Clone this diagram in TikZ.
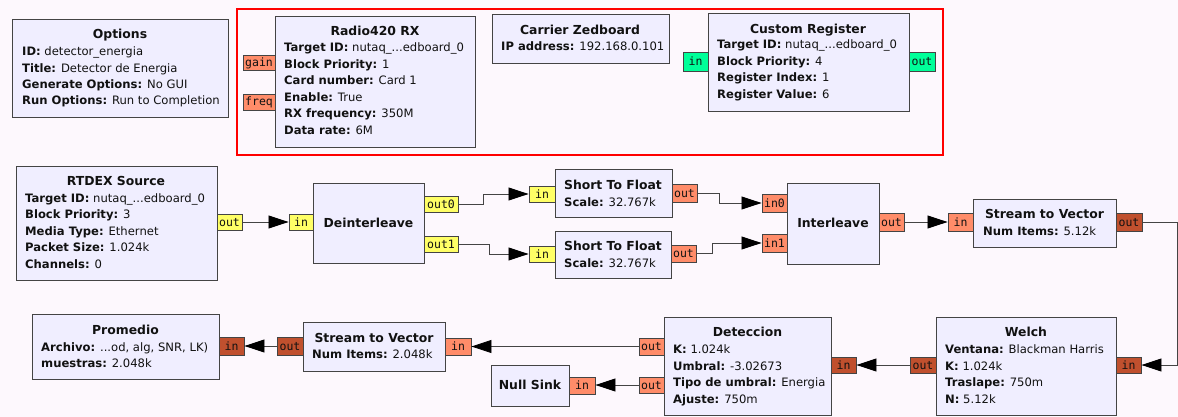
\documentclass[tikz,border=0pt]{standalone}
\usepackage{fontspec}
\setmainfont{DejaVu Sans}
\setmonofont{DejaVu Sans Mono}
\usetikzlibrary{arrows.meta}
\definecolor{bgc}{HTML}{FDF8FD}
\definecolor{blkc}{HTML}{F0EEFF}
\definecolor{bordc}{HTML}{444444}
\definecolor{yel}{HTML}{FFFF66}
\definecolor{flt}{HTML}{FF8C69}
\definecolor{dk}{HTML}{C0502E}
\definecolor{grn}{HTML}{00FF99}
\definecolor{txtc}{HTML}{111111}
\newcommand{\gblock}[5]{\node[blk, minimum width={(#4)-(#2)}, minimum height={(#5)-(#3)}] (#1) at (#2,#3) {};}
\newcommand{\gport}[7]{\node[port, fill=#2, minimum width={(#5)-(#3)}, minimum height={(#6)-(#4)}] (#1) at ({((#3)+(#5))/2},{((#4)+(#6))/2}) {#7};}
\begin{document}
\begin{tikzpicture}[x=1pt,y=-1pt,
  blk/.style={draw=bordc, fill=blkc, line width=0.9pt, inner sep=0pt, anchor=north west},
  port/.style={draw=bordc, line width=0.9pt, inner sep=0pt, anchor=center, text=txtc, font=\ttfamily\fontsize{11.5}{13}\selectfont, text height=8pt, text depth=0pt},
  ptxt/.style={anchor=base west, inner sep=0pt, text=txtc, font=\fontsize{11.6}{13}\selectfont},
  ttl/.style={anchor=base, inner sep=0pt, text=txtc, font=\bfseries\fontsize{12.4}{14}\selectfont},
  conn/.style={draw=bordc, line width=0.8pt, -{Triangle[length=20pt,width=13pt,fill=black,color=black]}},
  redbox/.style={draw=red, line width=2pt}
]
\fill[bgc] (0,0) rectangle (1178,417);
\useasboundingbox (0,0) rectangle (1178,417);

\draw[redbox] (237,9) rectangle (943,155);

% blocks
\gblock{opt}{12}{19}{228}{117}
\gblock{rad}{275}{16}{475}{147}
\gblock{car}{492}{14}{669}{63}
\gblock{cus}{708}{13}{909}{111}
\gblock{rtd}{16}{166}{217}{280}
\gblock{din}{313}{183}{424}{263}
\gblock{sfa}{555}{169}{672}{217}
\gblock{sfb}{555}{231}{671}{278}
\gblock{itl}{787}{183}{879}{264}
\gblock{sva}{973}{199}{1116}{247}
\gblock{wel}{936}{317}{1116}{415}
\gblock{det}{664}{317}{831}{415}
\gblock{svb}{303}{322}{445}{371}
\gblock{nul}{491}{365}{569}{406}
\gblock{pro}{32}{314}{219}{379}

% ports
\gport{radg}{flt}{243}{55}{275}{70}{gain}
\gport{radf}{flt}{243}{94}{275}{110}{freq}
\gport{cusi}{grn}{683}{52}{708}{71}{in}
\gport{cuso}{grn}{909}{52}{935}{71}{out}
\gport{rtdo}{yel}{217}{214}{242}{230}{out}
\gport{dini}{yel}{289}{214}{313}{230}{in}
\gport{dinoa}{yel}{424}{196}{458}{212}{out0}
\gport{dinob}{yel}{424}{236}{458}{252}{out1}
\gport{sfai}{yel}{529}{186}{555}{202}{in}
\gport{sfao}{flt}{672}{184}{697}{202}{out}
\gport{sfbi}{yel}{529}{246}{555}{262}{in}
\gport{sfbo}{flt}{671}{245}{696}{262}{out}
\gport{itlia}{flt}{762}{194}{787}{212}{in0}
\gport{itlib}{flt}{762}{234}{787}{252}{in1}
\gport{itlo}{flt}{879}{213}{904}{231}{out}
\gport{svai}{flt}{948}{213}{973}{231}{in}
\gport{svao}{dk}{1116}{213}{1142}{231}{out}
\gport{weli}{dk}{1116}{357}{1141}{373}{in}
\gport{welo}{dk}{910}{357}{936}{373}{out}
\gport{deti}{dk}{831}{357}{856}{373}{in}
\gport{detoa}{flt}{639}{338}{664}{355}{out}
\gport{detob}{flt}{639}{377}{664}{393}{out}
\gport{svbi}{flt}{445}{338}{471}{355}{in}
\gport{svbo}{dk}{277}{337}{303}{355}{out}
\gport{nuli}{flt}{569}{377}{595}{394}{in}
\gport{proi}{dk}{219}{337}{244}{355}{in}

% texts: Options
\node[ttl] (optT) at (120,38.5) {Options};
\node[ptxt] (optA) at (22,56) {\textbf{ID:} detector\_energia};
\node[ptxt] (optB) at (22,72.5) {\textbf{Title:} Detector de Energia};
\node[ptxt] (optC) at (22,88.5) {\textbf{Generate Options:} No GUI};
\node[ptxt] (optD) at (22,104.5) {\textbf{Run Options:} Run to Completion};
% Radio420
\node[ttl] (radT) at (375,35.5) {Radio420 RX};
\node[ptxt] (radA) at (284,52) {\textbf{Target ID:} nutaq\_...edboard\_0};
\node[ptxt] (radB) at (284,68.5) {\textbf{Block Priority:} 1};
\node[ptxt] (radC) at (284,85) {\textbf{Card number:} Card 1};
\node[ptxt] (radD) at (284,101.5) {\textbf{Enable:} True};
\node[ptxt] (radE) at (284,118) {\textbf{RX frequency:} 350M};
\node[ptxt] (radF) at (284,134.5) {\textbf{Data rate:} 6M};
% Carrier
\node[ttl] (carT) at (580,34.5) {Carrier Zedboard};
\node[ptxt] (carA) at (501,50.5) {\textbf{IP address:} 192.168.0.101};
% Custom register
\node[ttl] (cusT) at (808,33.5) {Custom Register};
\node[ptxt] (cusA) at (717,49) {\textbf{Target ID:} nutaq\_...edboard\_0};
\node[ptxt] (cusB) at (717,65.5) {\textbf{Block Priority:} 4};
\node[ptxt] (cusC) at (717,82) {\textbf{Register Index:} 1};
\node[ptxt] (cusD) at (717,98.5) {\textbf{Register Value:} 6};
% RTDEX
\node[ttl] (rtdT) at (116,185.5) {RTDEX Source};
\node[ptxt] (rtdA) at (25,202) {\textbf{Target ID:} nutaq\_...edboard\_0};
\node[ptxt] (rtdB) at (25,218.5) {\textbf{Block Priority:} 3};
\node[ptxt] (rtdC) at (25,235) {\textbf{Media Type:} Ethernet};
\node[ptxt] (rtdD) at (25,251.5) {\textbf{Packet Size:} 1.024k};
\node[ptxt] (rtdE) at (25,268) {\textbf{Channels:} 0};
% Deinterleave
\node[ttl] (dinT) at (368.5,227.5) {Deinterleave};
% Short to float
\node[ttl] (sfaT) at (613,189.5) {Short To Float};
\node[ptxt] (sfaA) at (564,206) {\textbf{Scale:} 32.767k};
\node[ttl] (sfbT) at (613,250.5) {Short To Float};
\node[ptxt] (sfbA) at (564,267) {\textbf{Scale:} 32.767k};
% Interleave
\node[ttl] (itlT) at (833,227.5) {Interleave};
% Stream to vector 1
\node[ttl] (svaT) at (1044.5,218.5) {Stream to Vector};
\node[ptxt] (svaA) at (983,235) {\textbf{Num Items:} 5.12k};
% Welch
\node[ttl] (welT) at (1026,336.5) {Welch};
\node[ptxt] (welA) at (945,353) {\textbf{Ventana:} Blackman Harris};
\node[ptxt] (welB) at (945,370) {\textbf{K:} 1.024k};
\node[ptxt] (welC) at (945,386.5) {\textbf{Traslape:} 750m};
\node[ptxt] (welD) at (945,403) {\textbf{N:} 5.12k};
% Deteccion
\node[ttl] (detT) at (747.5,336.5) {Deteccion};
\node[ptxt] (detA) at (673,353) {\textbf{K:} 1.024k};
\node[ptxt] (detB) at (673,370) {\textbf{Umbral:} -3.02673};
\node[ptxt] (detC) at (673,386.5) {\textbf{Tipo de umbral:} Energia};
\node[ptxt] (detD) at (673,403) {\textbf{Ajuste:} 750m};
% Stream to vector 2
\node[ttl] (svbT) at (374,342.5) {Stream to Vector};
\node[ptxt] (svbA) at (312,358.5) {\textbf{Num Items:} 2.048k};
% Null sink
\node[ttl] (nulT) at (530,389.5) {Null Sink};
% Promedio
\node[ttl] (proT) at (125.5,334.5) {Promedio};
\node[ptxt] (proA) at (41,351) {\textbf{Archivo:} ...od, alg, SNR, LK)};
\node[ptxt] (proB) at (41,367.5) {\textbf{muestras:} 2.048k};

% connections
\draw[conn] (rtdo.east) -- (dini.west);
\draw[conn] (dinoa.east) -- ++(25,0) |- (sfai.west);
\draw[conn] (dinob.east) -- ++(31,0) |- (sfbi.west);
\draw[conn] (sfao.east) -- ++(22,0) |- (itlia.west);
\draw[conn] (sfbo.east) -- ++(16,0) |- (itlib.west);
\draw[conn] (itlo.east) -- (itlo.east -| svai.west);
\draw[conn] (svao.east) -- ++(35,0) |- (weli.east);
\draw[conn] (welo.west) -- (welo.west -| deti.east);
\draw[conn] (detoa.west) -- (detoa.west -| svbi.east);
\draw[conn] (detob.west) -- (detob.west -| nuli.east);
\draw[conn] (svbo.west) -- (svbo.west -| proi.east);
\end{tikzpicture}
\end{document}
